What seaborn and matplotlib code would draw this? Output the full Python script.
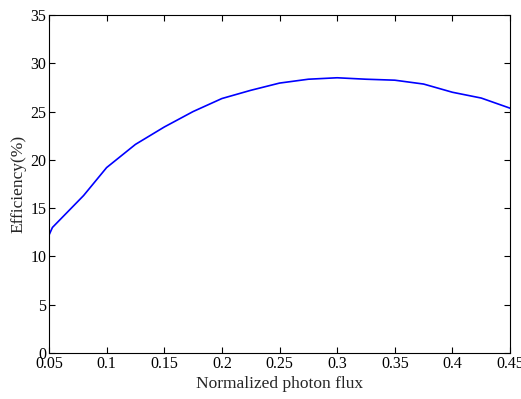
""" Efficiency vs normalized photon flux """

import matplotlib
matplotlib.use('Agg')
import matplotlib.pyplot as plt
import numpy as np
import pandas as pd
import seaborn as sns

sns.set_style('ticks', rc={
    'xtick.direction': 'in',
    'ytick.direction': 'in',
    'xtick.top': True,
    'ytick.right': True,
    'axes.linewidth': 1.0,
})
plt.rcParams['font.family'] = ['Liberation Serif', 'DejaVu Serif']
plt.rcParams['mathtext.fontset'] = 'stix'

# values
flux = [0.05, 0.053, 0.08, 0.1, 0.125, 0.15, 0.175, 0.2, 0.225, 0.25,
        0.275, 0.3, 0.325, 0.35, 0.375, 0.4, 0.425, 0.45]
efficiency = [12.2, 13.0, 16.3, 19.2, 21.6, 23.4, 25.0, 26.35, 27.2, 27.95,
              28.35, 28.5, 28.35, 28.25, 27.85, 27.0, 26.4, 25.35]

df = pd.DataFrame({'flux': flux, 'eff': efficiency})

fig = plt.figure(figsize=(5.21, 3.99), dpi=100)
ax = fig.add_axes([0.094, 0.1153, 0.885, 0.8471])
sns.lineplot(data=df, x='flux', y='eff', color='#0000FF', linewidth=1.2,
             ax=ax, estimator=None, sort=False)

ax.set_xlim(0.05, 0.45)
ax.set_ylim(0, 35)
ax.set_xticks(np.arange(0.05, 0.451, 0.05))
ax.set_xticklabels(['0.05', '0.1', '0.15', '0.2', '0.25', '0.3', '0.35', '0.4', '0.45'])
ax.set_yticks(np.arange(0, 36, 5))
ax.tick_params(length=4, width=0.8, labelsize=11.5, pad=2, colors='black')
ax.set_xlabel('Normalized photon flux', fontsize=12.5, labelpad=3)
ax.set_ylabel('Efficiency(%)', fontsize=12.5, labelpad=3)
for s in ax.spines.values():
    s.set_color('black')

fig.savefig('out.png', dpi=100)
